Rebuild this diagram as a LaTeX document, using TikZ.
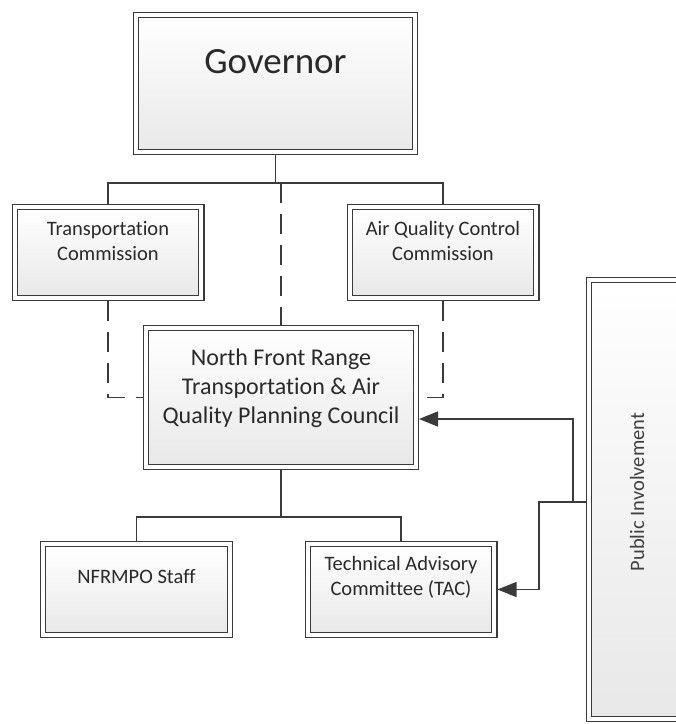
\documentclass[tikz,border=0pt]{standalone}
\usepackage{fontspec}
\setmainfont{Carlito}[RawFeature={-liga;-clig;-calt;-dlig;-ccmp;-rlig}]
\usepackage{tikz}
\usetikzlibrary{arrows.meta, positioning}

\definecolor{edge}{HTML}{3A3A3A}
\definecolor{ink}{HTML}{2A2A2A}

\begin{document}
\begin{tikzpicture}[x=1pt, y=-1pt]
\tikzstyle{box} = [rectangle, draw=edge, line width=1.2pt, double=white, double distance=4pt, top color=white, bottom color=black!9, inner sep=0pt, outer sep=3.2pt]
\tikzstyle{small} = [box, minimum width=186.6pt, minimum height=90.6pt]
\tikzstyle{caption} = [align=center, text=ink, inner sep=0pt, font=\fontsize{20.5}{25}\selectfont]
\tikzstyle{link} = [draw=edge, line width=1.4pt]
\tikzstyle{duty} = [link, dash pattern=on 20pt off 11pt]
\tikzstyle{feed} = [link, -{Triangle[length=19pt, width=15pt]}]

\clip (0,0) rectangle (676,724);
\fill[white] (0,0) rectangle (676,724);

% boxes
\node (gov) [box, minimum width=278.6pt, minimum height=136.6pt] at (275.5,83.5) {};
\node (gov_txt) [caption, font=\fontsize{37}{44}\selectfont] at (275.5,62) {Governor};

\node (tc) [small] at (108,252.5) {};
\node (tc_txt) [caption] at (108,241) {Transportation\\Commission};

\node (aqcc) [small] at (443,252.5) {};
\node (aqcc_txt) [caption] at (443,241) {Air Quality Control\\Commission};

\node (council) [box, minimum width=269.6pt, minimum height=138.6pt] at (281,397.5) {};
\node (council_txt) [caption, font=\fontsize{24}{29}\selectfont] at (281,388) {North Front Range\\Transportation \& Air\\Quality Planning Council};

\node (staff) [small] at (136.5,589.5) {};
\node (staff_txt) [caption] at (136.5,577) {NFRMPO Staff};

\node (tac) [small] at (401,589.5) {};
\node (tac_txt) [caption] at (401,577) {Technical Advisory\\Committee (TAC)};

\node (pi) [box, minimum width=114pt, minimum height=438.6pt, anchor=west] at (586,499.5) {};
\node (pi_txt) [caption, rotate=90, text=black!75] at (637,492) {Public Involvement};

% connectors
\coordinate (top_bus) at (0,183);
\coordinate (low_bus) at (0,517);
\coordinate (pi_tap) at (573,502);
\coordinate (tac_tap) at (539,502);
\coordinate (council_in) at ([yshift=-21.5pt]council.east);

\draw[link] (gov) -- (gov |- top_bus);
\draw[link] (tc) |- (top_bus -| aqcc) -- (aqcc);
\draw[duty] (council |- top_bus) -- (council);
\draw[duty] (tc) |- (council);
\draw[duty] (aqcc) |- (council);

\draw[link] (council) -- (council |- low_bus);
\draw[link] (staff) |- (low_bus -| tac) -- (tac);

\draw[feed] (pi.west |- pi_tap) -- (pi_tap) |- (council_in);
\draw[feed] (pi_tap) -- (tac_tap) |- (tac);
\end{tikzpicture}
\end{document}
